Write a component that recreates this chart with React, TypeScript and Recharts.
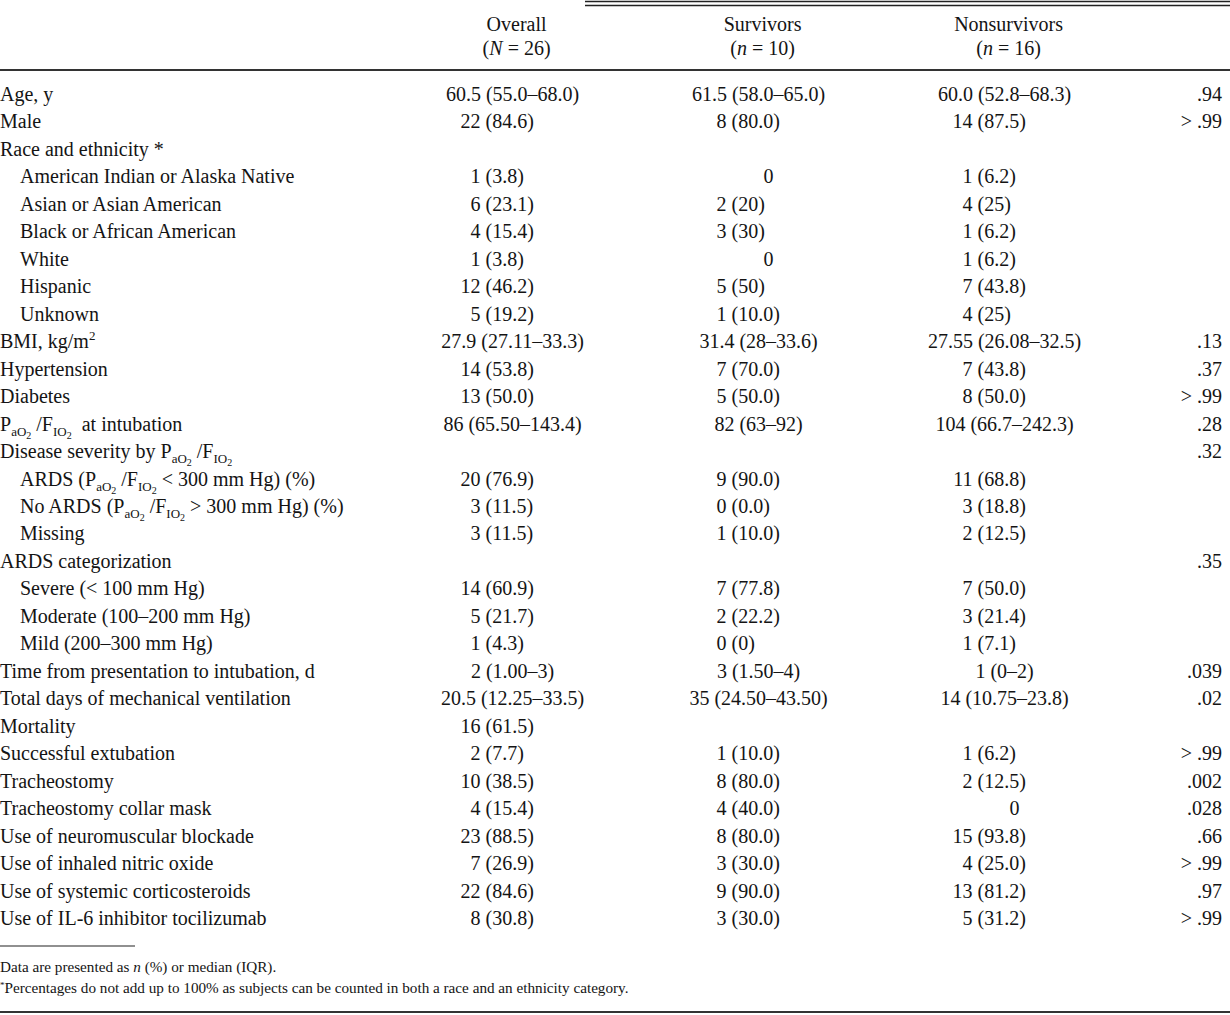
import React from "react";
import { ScatterChart, Scatter, XAxis, YAxis } from "recharts";

// table rows (first column). {PF} = PaO2/FIO2, {SQ} = superscript 2
const rowLabels = [
  "Age, y",
  "Male",
  "Race and ethnicity *",
  "American Indian or Alaska Native",
  "Asian or Asian American",
  "Black or African American",
  "White",
  "Hispanic",
  "Unknown",
  "BMI, kg/m{SQ}",
  "Hypertension",
  "Diabetes",
  "{PF}  at intubation",
  "Disease severity by {PF}",
  "ARDS ({PF} < 300 mm Hg) (%)",
  "No ARDS ({PF} > 300 mm Hg) (%)",
  "Missing",
  "ARDS categorization",
  "Severe (< 100 mm Hg)",
  "Moderate (100–200 mm Hg)",
  "Mild (200–300 mm Hg)",
  "Time from presentation to intubation, d",
  "Total days of mechanical ventilation",
  "Mortality",
  "Successful extubation",
  "Tracheostomy",
  "Tracheostomy collar mask",
  "Use of neuromuscular blockade",
  "Use of inhaled nitric oxide",
  "Use of systemic corticosteroids",
  "Use of IL-6 inhibitor tocilizumab",
];
const rowLevels = [0, 0, 0, 1, 1, 1, 1, 1, 1, 0, 0, 0, 0, 0, 1, 1, 1, 0, 1, 1, 1, 0, 0, 0, 0, 0, 0, 0, 0, 0, 0];

const groupNames = ["Overall", "Survivors", "Nonsurvivors"];
const groupSymbols = ["N", "n", "n"];
const groupCounts = [26, 10, 16];

const overall = [
  "60.5 (55.0–68.0)", "22 (84.6)", "", "1 (3.8)", "6 (23.1)", "4 (15.4)", "1 (3.8)", "12 (46.2)", "5 (19.2)",
  "27.9 (27.11–33.3)", "14 (53.8)", "13 (50.0)", "86 (65.50–143.4)", "", "20 (76.9)", "3 (11.5)", "3 (11.5)", "",
  "14 (60.9)", "5 (21.7)", "1 (4.3)", "2 (1.00–3)", "20.5 (12.25–33.5)", "16 (61.5)", "2 (7.7)", "10 (38.5)",
  "4 (15.4)", "23 (88.5)", "7 (26.9)", "22 (84.6)", "8 (30.8)",
];
const survivors = [
  "61.5 (58.0–65.0)", "8 (80.0)", "", "0", "2 (20)", "3 (30)", "0", "5 (50)", "1 (10.0)",
  "31.4 (28–33.6)", "7 (70.0)", "5 (50.0)", "82 (63–92)", "", "9 (90.0)", "0 (0.0)", "1 (10.0)", "",
  "7 (77.8)", "2 (22.2)", "0 (0)", "3 (1.50–4)", "35 (24.50–43.50)", "", "1 (10.0)", "8 (80.0)",
  "4 (40.0)", "8 (80.0)", "3 (30.0)", "9 (90.0)", "3 (30.0)",
];
const nonsurvivors = [
  "60.0 (52.8–68.3)", "14 (87.5)", "", "1 (6.2)", "4 (25)", "1 (6.2)", "1 (6.2)", "7 (43.8)", "4 (25)",
  "27.55 (26.08–32.5)", "7 (43.8)", "8 (50.0)", "104 (66.7–242.3)", "", "11 (68.8)", "3 (18.8)", "2 (12.5)", "",
  "7 (50.0)", "3 (21.4)", "1 (7.1)", "1 (0–2)", "14 (10.75–23.8)", "", "1 (6.2)", "2 (12.5)",
  "0", "15 (93.8)", "4 (25.0)", "13 (81.2)", "5 (31.2)",
];
const pValues = [
  ".94", "> .99", "", "", "", "", "", "", "",
  ".13", ".37", "> .99", ".28", ".32", "", "", "", ".35",
  "", "", "", ".039", ".02", "", "> .99", ".002",
  ".028", ".66", "> .99", ".97", "> .99",
];

const toPoints = (values: string[], col: number) =>
  rowLabels.map((row, i) => ({ row, col, text: values[i], level: rowLevels[i] }));

const labelData = toPoints(rowLabels, 0);
const overallData = toPoints(overall, 1);
const survivorsData = toPoints(survivors, 2);
const nonsurvivorsData = toPoints(nonsurvivors, 3);
const pData = toPoints(pValues, 1);

const FONT = "'Liberation Serif', 'Times New Roman', serif";
const INK = "#141414";
const textStyle = { fontFamily: FONT, fontSize: 20, fill: INK };

// baseline shift (px) and size for each level: 0 normal, 1 sub, 2 sub-sub, -1 sup
const shift: Record<number, number> = { 0: 0, 1: 5, 2: 8, [-1]: -8 };
const sizes: Record<number, number> = { 0: 20, 1: 13, 2: 10, [-1]: 13 };

function labelSegments(label: string) {
  const segs: { t: string; s: number }[] = [];
  label.split(/(\{PF\}|\{SQ\})/).forEach((part) => {
    if (part === "{PF}") {
      segs.push({ t: "P", s: 0 }, { t: "aO", s: 1 }, { t: "2", s: 2 }, { t: " /F", s: 0 }, { t: "IO", s: 1 }, { t: "2", s: 2 });
    } else if (part === "{SQ}") {
      segs.push({ t: "2", s: -1 });
    } else if (part) {
      segs.push({ t: part, s: 0 });
    }
  });
  let cur = 0;
  return segs.map((seg, i) => {
    const dy = shift[seg.s] - cur;
    cur = shift[seg.s];
    return (
      <tspan key={i} dy={dy} fontSize={sizes[seg.s]} style={{ whiteSpace: "pre" }}>
        {seg.t}
      </tspan>
    );
  });
}

function RowLabel(props: any) {
  const { cx, cy, payload } = props;
  return (
    <text x={cx + (payload.level ? 20 : 0)} y={cy + 7} textAnchor="start" {...textStyle} style={{ whiteSpace: "pre" }}>
      {labelSegments(payload.text)}
    </text>
  );
}

function HeaderTick(props: any) {
  const { x, payload } = props;
  const i = payload.value - 1;
  if (i < 0 || i > 2) return <g />;
  return (
    <g>
      <text x={x} y={31} textAnchor="middle" {...textStyle}>
        {groupNames[i]}
      </text>
      <text x={x} y={55} textAnchor="middle" {...textStyle} style={{ whiteSpace: "pre" }}>
        (<tspan fontStyle="italic">{groupSymbols[i]}</tspan> = {groupCounts[i]})
      </text>
    </g>
  );
}

function PTick(props: any) {
  const { x } = props;
  return (
    <text x={x - 27} y={44} textAnchor="middle" {...textStyle} fontStyle="italic">
      P
    </text>
  );
}

function CellText(props: any) {
  const { cx, cy, payload } = props;
  const text: string = payload.text;
  if (!text) return <g />;
  const y = cy + 7;
  if (text.includes("–")) {
    return (
      <text x={cx - 4} y={y} textAnchor="middle" {...textStyle}>
        {text}
      </text>
    );
  }
  const sp = text.indexOf(" ");
  if (sp < 0) {
    return (
      <text x={cx + 6} y={y} textAnchor="middle" {...textStyle}>
        {text}
      </text>
    );
  }
  const ax = cx - 36;
  return (
    <g>
      <text x={ax} y={y} textAnchor="end" {...textStyle}>
        {text.slice(0, sp)}
      </text>
      <text x={ax + 5} y={y} textAnchor="start" {...textStyle}>
        {text.slice(sp + 1)}
      </text>
    </g>
  );
}

function PText(props: any) {
  const { cx, cy, payload } = props;
  if (!payload.text) return <g />;
  return (
    <text x={cx - 8} y={cy + 7} textAnchor="end" {...textStyle} style={{ whiteSpace: "pre" }}>
      {payload.text}
    </text>
  );
}

function Rules() {
  return (
    <svg width={1230} height={1015} style={{ position: "absolute", left: 0, top: 0, pointerEvents: "none" }}>
      <line x1={585} x2={1230} y1={1.5} y2={1.5} stroke="#222" strokeWidth={1.4} />
      <line x1={585} x2={1230} y1={5.5} y2={5.5} stroke="#222" strokeWidth={1.4} />
      <line x1={0} x2={1230} y1={70} y2={70} stroke="#333" strokeWidth={2} />
      <line x1={0} x2={135} y1={946} y2={946} stroke="#222" strokeWidth={1.2} />
      <line x1={0} x2={1230} y1={1012} y2={1012} stroke="#333" strokeWidth={2} />
      <text x={0} y={972} fontFamily={FONT} fontSize={15.2} fill={INK} style={{ whiteSpace: "pre" }}>
        Data are presented as <tspan fontStyle="italic">n</tspan> (%) or median (IQR).
      </text>
      <text x={0} y={993} fontFamily={FONT} fontSize={15.2} fill={INK}>
        <tspan fontSize={9} dy={-5}>*</tspan>
        <tspan dy={5}>Percentages do not add up to 100% as subjects can be counted in both a race and an ethnicity category.</tspan>
      </text>
    </svg>
  );
}

export default function App() {
  return (
    <div style={{ position: "absolute", left: 0, top: 0, width: 1230, height: 1015, background: "#fff" }}>
      <ScatterChart width={1230} height={1015} margin={{ top: 0, right: 0, bottom: 83, left: 0 }}>
        <XAxis
          xAxisId="grp"
          type="number"
          dataKey="col"
          orientation="top"
          height={80}
          domain={[-1.1, 3.9]}
          ticks={[1, 2, 3]}
          interval={0}
          axisLine={false}
          tickLine={false}
          tick={<HeaderTick />}
        />
        <XAxis
          xAxisId="p"
          type="number"
          dataKey="col"
          orientation="top"
          height={0}
          domain={[0, 1]}
          ticks={[1]}
          interval={0}
          axisLine={false}
          tickLine={false}
          tick={<PTick />}
        />
        <XAxis xAxisId="lbl" type="number" dataKey="col" domain={[0, 1]} hide />
        <YAxis type="category" dataKey="row" reversed allowDuplicatedCategory={false} hide />
        <Scatter xAxisId="lbl" data={labelData} shape={(p: any) => <RowLabel {...p} />} isAnimationActive={false} />
        <Scatter xAxisId="grp" data={overallData} shape={(p: any) => <CellText {...p} />} isAnimationActive={false} />
        <Scatter xAxisId="grp" data={survivorsData} shape={(p: any) => <CellText {...p} />} isAnimationActive={false} />
        <Scatter xAxisId="grp" data={nonsurvivorsData} shape={(p: any) => <CellText {...p} />} isAnimationActive={false} />
        <Scatter xAxisId="p" data={pData} shape={(p: any) => <PText {...p} />} isAnimationActive={false} />
      </ScatterChart>
      <Rules />
    </div>
  );
}
